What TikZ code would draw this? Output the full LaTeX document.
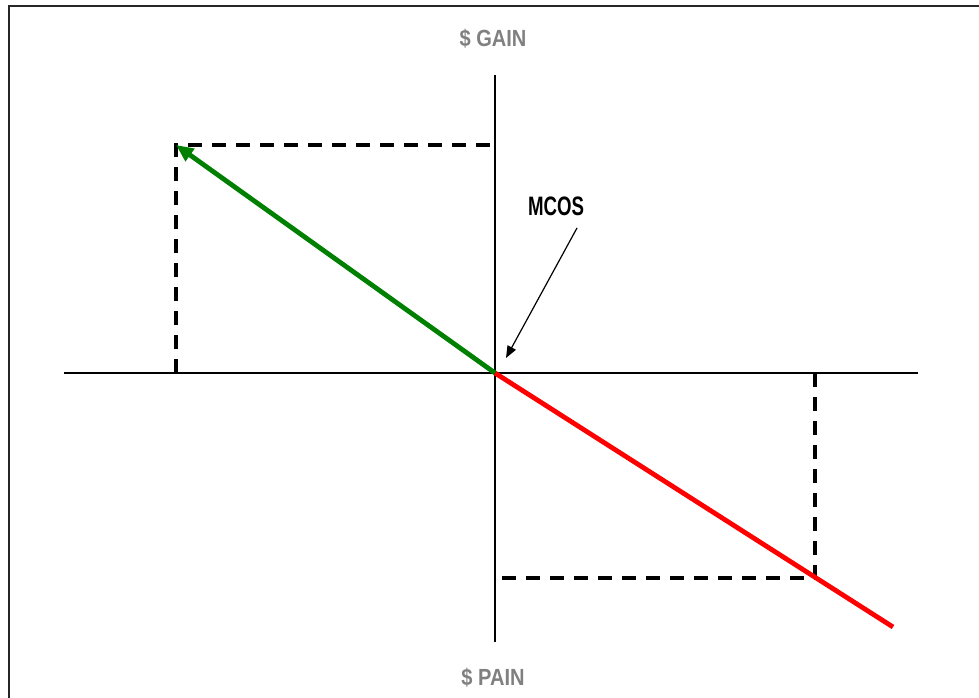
\documentclass[tikz,border=0pt]{standalone}
\usepackage{fontspec}
\setmainfont{Liberation Sans}
\newfontfamily\narrowfont{Liberation Sans}[FakeStretch=0.7]
\newfontfamily\semifont{Liberation Sans}[FakeStretch=0.86]
\usetikzlibrary{arrows.meta}
\definecolor{axgray}{HTML}{808080}
\definecolor{mygreen}{HTML}{008000}
\definecolor{myred}{HTML}{FF0000}
\begin{document}
\begin{tikzpicture}[x=0.75pt,y=-0.75pt,
  axisline/.style={black,line width=1.2pt},
  guide/.style={black,line width=2.8pt,dash pattern=on 10.5pt off 7.5pt},
  lbl/.style={font=\semifont\bfseries\fontsize{17.5}{21}\selectfont,text=axgray,inner sep=0pt},
  callout/.style={font=\narrowfont\bfseries\fontsize{20}{24}\selectfont,inner sep=0pt}]
\useasboundingbox (0,0) rectangle (979,698);
\draw[line width=1.6pt,black!85] (9,720) -- (9,6) -- (1000,6);
% axes
\coordinate (O) at (495,373);
\coordinate (xl) at (64,373);
\coordinate (xr) at (918,373);
\coordinate (yt) at (495,75);
\coordinate (yb) at (495,642);
\draw[axisline] (xl) -- (xr);
\draw[axisline] (yt) -- (yb);
% gain box
\coordinate (G) at (176,145);
\coordinate (Gy) at (495,145);
\coordinate (Gx) at (176,373);
\draw[guide] (Gx) -- (G) -- (Gy);
% pain box
\coordinate (P) at (815,578);
\coordinate (Px) at (815,373);
\coordinate (Py) at (495,578);
\draw[guide] (Px) -- (P) -- (Py);
% vectors
\coordinate (R) at (893,627);
\draw[myred,line width=3.6pt] (O) -- (R);
\draw[mygreen,line width=3.6pt,-{Triangle[length=13pt,width=11pt]}] (O) -- (G);
% labels
\node[lbl] (gain) at (493,39) {\$ GAIN};
\node[lbl] (pain) at (493,678) {\$ PAIN};
\node[callout] (mcos) at (556,206) {MCOS};
\coordinate (mcosA) at (577,228);
\coordinate (mcosB) at (506,358);
\draw[line width=0.9pt,-{Triangle[length=9pt,width=7pt]}] (mcosA) -- (mcosB);
\end{tikzpicture}
\end{document}
